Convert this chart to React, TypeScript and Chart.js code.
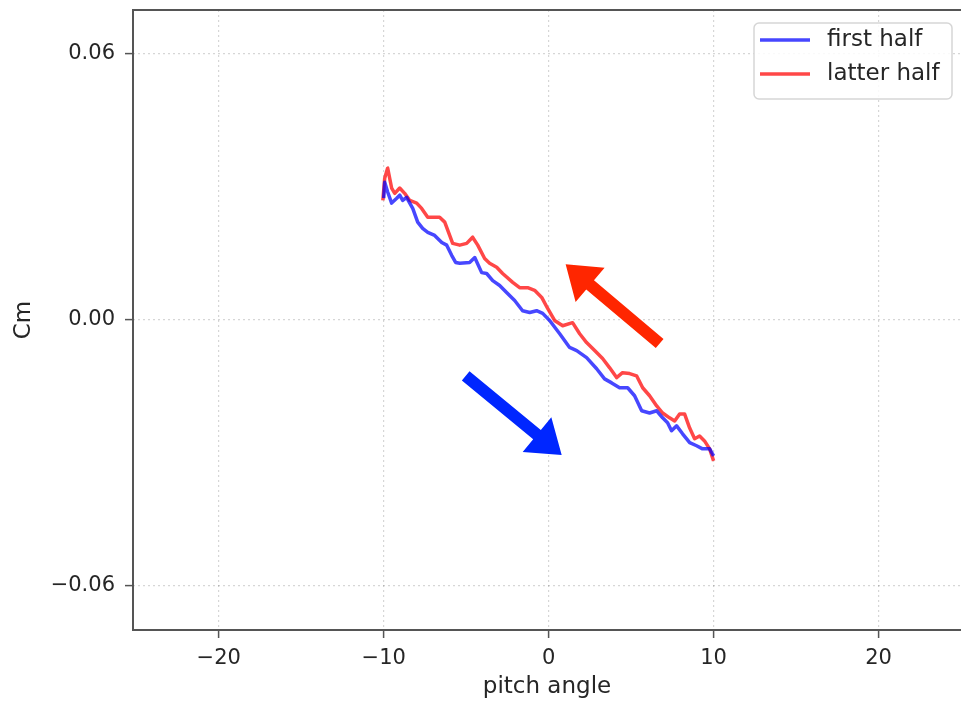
import React, { useEffect, useRef } from 'react';
import { Chart, registerables } from 'chart.js';

Chart.register(...registerables);

// ---- data ----
const firstHalfX = [-10.0, -9.94, -9.76, -9.52, -9.21, -9.03, -8.85, -8.61, -8.42, -8.24, -7.94, -7.64, -7.33, -6.91, -6.48, -6.18, -5.88, -5.64, -5.39, -4.79, -4.48, -4.06, -3.76, -3.39, -2.97, -2.55, -2.06, -1.58, -1.15, -0.73, -0.36, 0.06, 0.67, 1.27, 1.70, 2.30, 2.91, 3.39, 3.82, 4.30, 4.79, 5.21, 5.64, 6.12, 6.55, 6.91, 7.21, 7.45, 7.76, 8.12, 8.55, 8.97, 9.33, 9.76, 10.0];
const firstHalfY = [0.0274, 0.0310, 0.0288, 0.0263, 0.0274, 0.0281, 0.0269, 0.0276, 0.0263, 0.0251, 0.0220, 0.0206, 0.0197, 0.0190, 0.0174, 0.0168, 0.0145, 0.0129, 0.0127, 0.0129, 0.0140, 0.0106, 0.0104, 0.0088, 0.0077, 0.0061, 0.0043, 0.0020, 0.0016, 0.0020, 0.0014, -0.0002, -0.0032, -0.0063, -0.0070, -0.0086, -0.0111, -0.0134, -0.0143, -0.0154, -0.0154, -0.0172, -0.0206, -0.0211, -0.0206, -0.0222, -0.0233, -0.0251, -0.0240, -0.0258, -0.0278, -0.0285, -0.0292, -0.0292, -0.0308];

const latterHalfX = [10.0, 9.76, 9.45, 9.15, 8.85, 8.55, 8.24, 7.94, 7.64, 7.33, 6.91, 6.55, 6.12, 5.70, 5.33, 4.91, 4.48, 4.12, 3.70, 3.27, 2.79, 2.30, 1.88, 1.45, 0.85, 0.36, -0.06, -0.42, -0.85, -1.27, -1.76, -2.18, -2.79, -3.15, -3.58, -3.88, -4.30, -4.61, -4.97, -5.39, -5.82, -6.00, -6.30, -6.61, -7.03, -7.33, -7.70, -8.00, -8.42, -8.73, -9.03, -9.33, -9.52, -9.76, -9.94, -10.05];
const latterHalfY = [-0.0319, -0.0292, -0.0274, -0.0263, -0.0269, -0.0245, -0.0213, -0.0213, -0.0229, -0.0222, -0.0211, -0.0195, -0.0172, -0.0154, -0.0127, -0.0122, -0.0120, -0.0131, -0.0109, -0.0088, -0.0070, -0.0052, -0.0032, -0.0007, -0.0014, -0.0002, 0.0025, 0.0050, 0.0066, 0.0072, 0.0072, 0.0084, 0.0104, 0.0118, 0.0127, 0.0138, 0.0168, 0.0186, 0.0172, 0.0168, 0.0172, 0.0190, 0.0220, 0.0231, 0.0231, 0.0231, 0.0251, 0.0263, 0.0269, 0.0285, 0.0297, 0.0285, 0.0297, 0.0342, 0.0319, 0.0269];

const seriesLabels = ['first half', 'latter half'];
const xTickValues = [-20, -10, 0, 10, 20];
const yTickValues = [-0.06, 0, 0.06];
const xAxisLabel = 'pitch angle';
const yAxisLabel = 'Cm';

// annotation arrows in data coordinates: [x, y]
const redArrowFrom = [6.73, -0.0054];
const redArrowTo = [1.03, 0.0125];
const blueArrowFrom = [-5.03, -0.0127];
const blueArrowTo = [0.79, -0.0306];

const FONT = "'DejaVu Sans', sans-serif";
const minus = (s: string) => s.replace('-', '\u2212');

function toPoints(xs: number[], ys: number[]) {
  return xs.map((x, i) => ({ x, y: ys[i] }));
}

const framePlugin = {
  id: 'frame',
  afterDatasetsDraw(chart: any) {
    const { ctx, chartArea: a } = chart;
    ctx.save();
    ctx.strokeStyle = '#555';
    ctx.lineWidth = 2;
    ctx.beginPath();
    ctx.moveTo(a.right + 2, a.top);
    ctx.lineTo(a.left, a.top);
    ctx.lineTo(a.left, a.bottom);
    ctx.lineTo(a.right + 2, a.bottom);
    ctx.stroke();
    ctx.restore();
  },
};

function drawArrow(chart: any, from: number[], to: number[], color: string) {
  const { ctx, scales } = chart;
  const x0 = scales.x.getPixelForValue(from[0]);
  const y0 = scales.y.getPixelForValue(from[1]);
  const x1 = scales.x.getPixelForValue(to[0]);
  const y1 = scales.y.getPixelForValue(to[1]);
  const len = Math.hypot(x1 - x0, y1 - y0);
  const ux = (x1 - x0) / len;
  const uy = (y1 - y0) / len;
  const nx = -uy;
  const ny = ux;
  const shaft = 6;
  const head = 22.5;
  const headLen = 32;
  const bx = x1 - ux * headLen;
  const by = y1 - uy * headLen;
  ctx.save();
  ctx.fillStyle = color;
  ctx.beginPath();
  ctx.moveTo(x0 + nx * shaft, y0 + ny * shaft);
  ctx.lineTo(bx + nx * shaft, by + ny * shaft);
  ctx.lineTo(bx + nx * head, by + ny * head);
  ctx.lineTo(x1, y1);
  ctx.lineTo(bx - nx * head, by - ny * head);
  ctx.lineTo(bx - nx * shaft, by - ny * shaft);
  ctx.lineTo(x0 - nx * shaft, y0 - ny * shaft);
  ctx.closePath();
  ctx.fill();
  ctx.restore();
}

const arrowPlugin = {
  id: 'arrows',
  afterDatasetsDraw(chart: any) {
    drawArrow(chart, redArrowFrom, redArrowTo, '#ff2600');
    drawArrow(chart, blueArrowFrom, blueArrowTo, '#0026ff');
  },
};

const legendPlugin = {
  id: 'boxLegend',
  afterDraw(chart: any) {
    const { ctx, chartArea: a } = chart;
    const right = a.right - 9;
    const left = right - 198;
    const top = a.top + 13;
    const h = 76;
    ctx.save();
    ctx.fillStyle = 'rgba(255,255,255,0.85)';
    ctx.strokeStyle = '#d6d6d6';
    ctx.lineWidth = 1.5;
    ctx.beginPath();
    (ctx as any).roundRect(left, top, right - left, h, 5);
    ctx.fill();
    ctx.stroke();
    chart.data.datasets.forEach((ds: any, i: number) => {
      const y = top + 17 + i * 34;
      ctx.strokeStyle = ds.borderColor;
      ctx.lineWidth = 3.5;
      ctx.beginPath();
      ctx.moveTo(left + 6, y);
      ctx.lineTo(left + 56, y);
      ctx.stroke();
      ctx.fillStyle = '#262626';
      ctx.font = `23px ${FONT}`;
      ctx.textBaseline = 'middle';
      ctx.textAlign = 'left';
      ctx.fillText(ds.label, left + 73, y);
    });
    ctx.restore();
  },
};

export default function App() {
  const ref = useRef<HTMLCanvasElement | null>(null);

  useEffect(() => {
    if (!ref.current) return;
    const chart = new Chart(ref.current, {
      type: 'line',
      data: {
        datasets: [
          {
            label: seriesLabels[0],
            data: toPoints(firstHalfX, firstHalfY),
            borderColor: 'rgba(0,0,255,0.72)',
            borderWidth: 3.5,
            pointRadius: 0,
            tension: 0,
            borderJoinStyle: 'round',
            fill: false,
          },
          {
            label: seriesLabels[1],
            data: toPoints(latterHalfX, latterHalfY),
            borderColor: 'rgba(255,0,0,0.72)',
            borderWidth: 3.5,
            pointRadius: 0,
            tension: 0,
            borderJoinStyle: 'round',
            fill: false,
          },
        ],
      },
      options: {
        responsive: false,
        animation: false,
        layout: { padding: { top: 10, left: 0, right: 0, bottom: 0 } },
        plugins: { legend: { display: false }, tooltip: { enabled: false } },
        scales: {
          x: {
            type: 'linear',
            min: -25.2,
            max: 25,
            afterBuildTicks: (s: any) => {
              s.ticks = xTickValues.map((v) => ({ value: v }));
            },
            afterFit: (s: any) => {
              s.height = 73;
              s.paddingLeft = 0;
              s.paddingRight = 0;
            },
            ticks: {
              color: '#262626',
              font: { family: FONT, size: 21 },
              padding: 8,
              maxRotation: 0,
              callback: (v: any) => minus(String(v)),
            },
            grid: {
              color: 'rgba(0,0,0,0.16)',
              lineWidth: 1.2,
              tickLength: 8,
              tickColor: '#555',
              tickWidth: 1.5,
            },
            border: { display: false, dash: [2, 3] },
            title: {
              display: true,
              text: xAxisLabel,
              color: '#262626',
              font: { family: FONT, size: 23 },
              padding: { top: 0, bottom: 2 },
            },
          },
          y: {
            type: 'linear',
            min: -0.0701,
            max: 0.0699,
            afterBuildTicks: (s: any) => {
              s.ticks = yTickValues.map((v) => ({ value: v }));
            },
            afterFit: (s: any) => {
              s.width = 133;
              s.paddingTop = 0;
              s.paddingBottom = 0;
            },
            ticks: {
              color: '#262626',
              font: { family: FONT, size: 21 },
              padding: 10,
              callback: (v: any) => minus(Number(v).toFixed(2)),
            },
            grid: {
              color: 'rgba(0,0,0,0.16)',
              lineWidth: 1.2,
              tickLength: 8,
              tickColor: '#555',
              tickWidth: 1.5,
            },
            border: { display: false, dash: [2, 3] },
            title: {
              display: true,
              text: yAxisLabel,
              color: '#262626',
              font: { family: FONT, size: 23 },
              padding: { top: 10, bottom: 0 },
            },
          },
        },
      },
      plugins: [framePlugin, arrowPlugin, legendPlugin],
    } as any);
    return () => chart.destroy();
  }, []);

  return (
    <div style={{ position: 'absolute', left: 0, top: 0, width: 961, height: 703, background: '#fff' }}>
      <canvas ref={ref} width={961} height={703} style={{ display: 'block' }} />
    </div>
  );
}
